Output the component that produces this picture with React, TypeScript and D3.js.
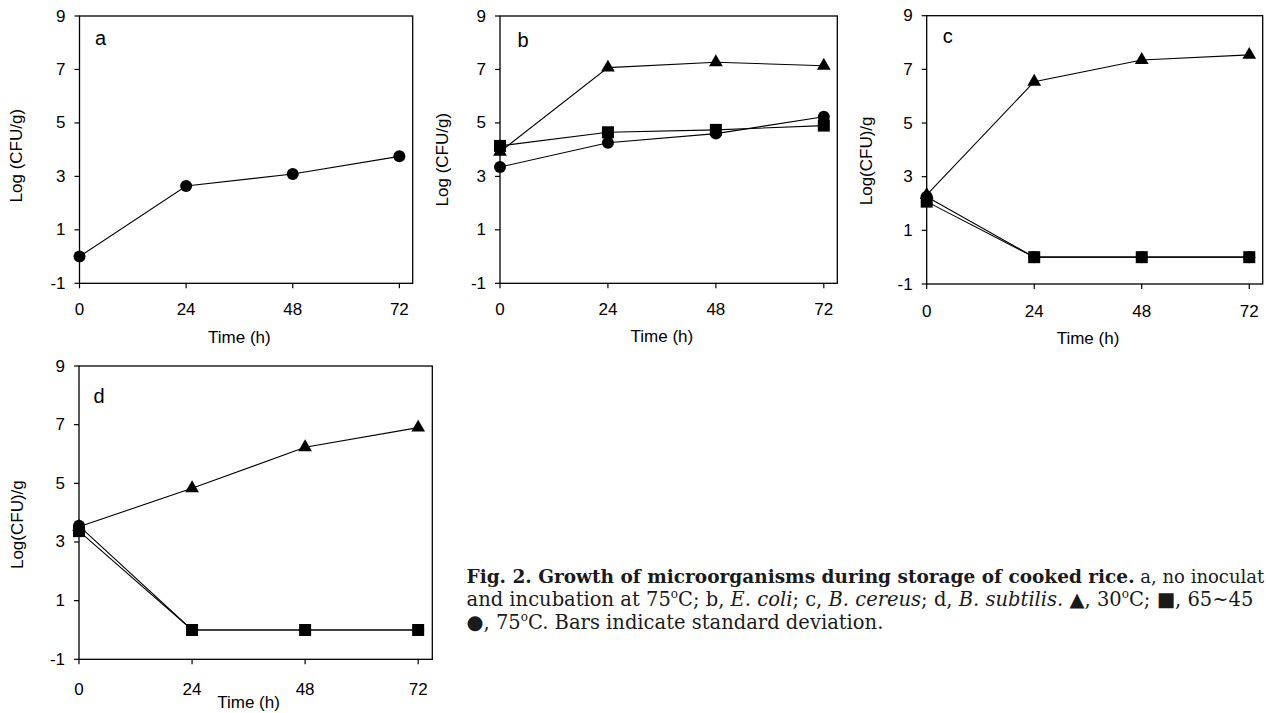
import React from "react";
import * as d3 from "d3";

// ---- data ----
const timeHours = [0, 24, 48, 72];
const xTickLabels = ["0", "24", "48", "72"];
const yTickValues = [-1, 1, 3, 5, 7, 9];

const panelA_circle = [0.0, 2.64, 3.09, 3.75];

const panelB_triangle = [3.92, 7.07, 7.27, 7.14];
const panelB_circle = [3.35, 4.26, 4.6, 5.23];
const panelB_square = [4.14, 4.65, 4.74, 4.9];

const panelC_triangle = [2.32, 6.54, 7.35, 7.54];
const panelC_circle = [2.25, 0, 0, 0];
const panelC_square = [2.07, 0, 0, 0];

const panelD_triangle = [3.52, 4.83, 6.23, 6.9];
const panelD_circle = [3.55, 0, 0, 0];
const panelD_square = [3.37, 0, 0, 0];

type Shape = "triangle" | "circle" | "square";
interface Series { shape: Shape; values: number[] }
interface Panel {
  letter: string;
  yTitle: string;
  box: { l: number; t: number; r: number; b: number };
  series: Series[];
  tickDy: number;
  timeDy: number;
  yTitleX: number;
  yTitleDy: number;
  letterDx: number;
  letterDy: number;
}

const panels: Panel[] = [
  {
    letter: "a", yTitle: "Log (CFU/g)",
    box: { l: 79.5, t: 16, r: 412.7, b: 283.3 },
    series: [{ shape: "circle", values: panelA_circle }],
    tickDy: 32, timeDy: 60, yTitleX: 16, yTitleDy: 6, letterDx: 15.5, letterDy: 29,
  },
  {
    letter: "b", yTitle: "Log (CFU/g)",
    box: { l: 500, t: 16, r: 837.3, b: 283.3 },
    series: [
      { shape: "triangle", values: panelB_triangle },
      { shape: "circle", values: panelB_circle },
      { shape: "square", values: panelB_square },
    ],
    tickDy: 32, timeDy: 59, yTitleX: 442.5, yTitleDy: 10, letterDx: 17.5, letterDy: 30.5,
  },
  {
    letter: "c", yTitle: "Log(CFU)/g",
    box: { l: 926.7, t: 15.7, r: 1262.7, b: 284 },
    series: [
      { shape: "triangle", values: panelC_triangle },
      { shape: "circle", values: panelC_circle },
      { shape: "square", values: panelC_square },
    ],
    tickDy: 32.5, timeDy: 59.5, yTitleX: 866.7, yTitleDy: 11, letterDx: 16, letterDy: 27.5,
  },
  {
    letter: "d", yTitle: "Log(CFU)/g",
    box: { l: 79, t: 366, r: 432.3, b: 659.3 },
    series: [
      { shape: "triangle", values: panelD_triangle },
      { shape: "circle", values: panelD_circle },
      { shape: "square", values: panelD_square },
    ],
    tickDy: 36, timeDy: 49, yTitleX: 17.5, yTitleDy: 12, letterDx: 14.5, letterDy: 37,
  },
];

const FONT = "'Liberation Sans', Arial, sans-serif";
const SERIF = "'DejaVu Serif', serif";
const AX = 17;

const symbolPath: Record<Shape, string> = {
  circle: d3.symbol().type(d3.symbolCircle).size(Math.PI * 36)() as string,
  square: d3.symbol().type(d3.symbolSquare).size(144)() as string,
  triangle: d3.symbol().type(d3.symbolTriangle).size(82)() as string,
};

function PanelChart({ p }: { p: Panel }) {
  const { l, t, r, b } = p.box;
  const x = d3.scaleLinear().domain([0, 75]).range([l, r]);
  const y = d3.scaleLinear().domain([-1, 9]).range([b, t]);
  const line = d3
    .line<number>()
    .x((_, i) => x(timeHours[i]))
    .y((v) => y(v));
  const order: Shape[] = ["triangle", "circle", "square"];
  const sorted = [...p.series].sort((a, c) => order.indexOf(a.shape) - order.indexOf(c.shape));
  const midX = x(36);
  const midY = (t + b) / 2 + p.yTitleDy;
  return (
    <g>
      {sorted.map((s, i) => (
        <path key={"l" + i} d={line(s.values) as string} fill="none" stroke="#000" strokeWidth={1.1} />
      ))}
      {sorted.map((s, i) =>
        s.values.map((v, j) => (
          <path
            key={"m" + i + "-" + j}
            d={symbolPath[s.shape]}
            transform={`translate(${x(timeHours[j])},${y(v)})`}
            fill="#000"
          />
        ))
      )}
      <rect x={l} y={t} width={r - l} height={b - t} fill="none" stroke="#000" strokeWidth={1.3} />
      {yTickValues.map((v) => (
        <g key={"yt" + v}>
          <line x1={l - 5} x2={l} y1={y(v)} y2={y(v)} stroke="#000" strokeWidth={1.2} />
          <text x={l - 14} y={y(v)} textAnchor="end" dominantBaseline="central" fontFamily={FONT} fontSize={AX} fill="#000">
            {v}
          </text>
        </g>
      ))}
      {timeHours.map((h, i) => (
        <g key={"xt" + h}>
          <line x1={x(h)} x2={x(h)} y1={b} y2={b + 5} stroke="#000" strokeWidth={1.2} />
          <text x={x(h)} y={b + p.tickDy} textAnchor="middle" fontFamily={FONT} fontSize={AX} fill="#000">
            {xTickLabels[i]}
          </text>
        </g>
      ))}
      <text x={midX} y={b + p.timeDy} textAnchor="middle" fontFamily={FONT} fontSize={AX} fill="#000">
        Time (h)
      </text>
      <text
        transform={`translate(${p.yTitleX},${midY}) rotate(-90)`}
        textAnchor="middle"
        dominantBaseline="central"
        fontFamily={FONT}
        fontSize={AX}
        fill="#000"
      >
        {p.yTitle}
      </text>
      <text x={l + p.letterDx} y={t + p.letterDy} fontFamily={FONT} fontSize={20} fill="#000">
        {p.letter}
      </text>
    </g>
  );
}

function Deg() {
  return (
    <>
      <tspan fontSize={12} dy={-8}>o</tspan>
      <tspan dy={8}>C</tspan>
    </>
  );
}

export default function App() {
  const capX = 466.5;
  const capSize = 19.5;
  return (
    <div style={{ position: "fixed", left: 0, top: 0, width: 1266, height: 713, background: "#fff" }}>
      <svg width={1266} height={713} style={{ display: "block", overflow: "hidden" }}>
        <rect x={0} y={0} width={1266} height={713} fill="#fff" />
        {panels.map((p) => (
          <PanelChart key={p.letter} p={p} />
        ))}
        <g fontFamily={SERIF} fontSize={capSize} fill="#1a1a1a">
          <text x={capX} y={583}>
            <tspan fontWeight="bold" fontSize={18.5}>Fig. 2. Growth of microorganisms during storage of cooked rice.</tspan>
            <tspan fontSize={18}> a, no inoculat</tspan>
          </text>
          <text x={capX} y={606}>
            <tspan>and incubation at 75</tspan>
            <Deg />
            <tspan>; b, </tspan>
            <tspan fontStyle="italic">E. coli</tspan>
            <tspan>; c, </tspan>
            <tspan fontStyle="italic">B. cereus</tspan>
            <tspan>; d, </tspan>
            <tspan fontStyle="italic">B. subtilis.</tspan>
            <tspan> ▲, 30</tspan>
            <Deg />
            <tspan>; ■, 65~45</tspan>
          </text>
          <text x={capX} y={629}>
            <tspan>●, 75</tspan>
            <Deg />
            <tspan>. Bars indicate standard deviation.</tspan>
          </text>
        </g>
      </svg>
    </div>
  );
}
